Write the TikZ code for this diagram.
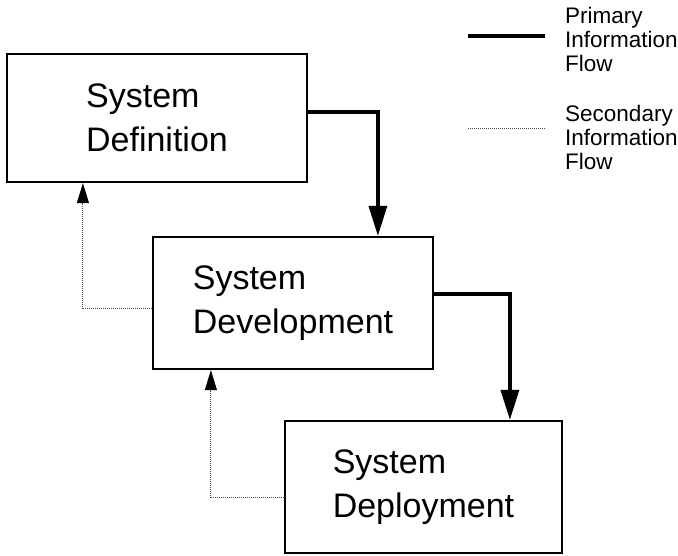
\documentclass[tikz,border=0pt]{standalone}
\usepackage{fontspec}
\setmainfont{Liberation Sans}
\usetikzlibrary{arrows.meta}

\begin{document}
\begin{tikzpicture}[x=1pt, y=-1pt,
    stage/.style={draw, line width=2.2pt, align=left, inner sep=0pt,
      font=\fontsize{34}{44}\selectfont},
    mainline/.style={line width=3.4pt},
    primary/.style={mainline, -{Triangle[width=18pt,length=30pt]}},
    sideline/.style={line width=0.9pt, black!70, dash pattern=on 1.2pt off 0.8pt},
    secondary/.style={sideline, -{Triangle[width=12pt,length=20pt,color=black]}},
    legendtext/.style={align=left, anchor=west, inner sep=0pt,
      font=\fontsize{22.5}{24}\selectfont}]
      \useasboundingbox (0,0) rectangle (678,556);
      % the three stages
      \node [stage, minimum width=300pt, minimum height=128pt] (def) at (157,118) {System\\Definition};
      \node [stage, minimum width=280pt, minimum height=132pt] (dev) at (293,303) {System\\Development};
      \node [stage, minimum width=277pt, minimum height=132pt] (dep) at (423.5,487) {System\\Deployment};
      % primary flow
      \draw [primary] ([yshift=6pt]def.east) -| ([xshift=226pt]dev.north west);
      \draw [primary] ([yshift=9pt]dev.east) -| ([xshift=226pt]dep.north west);
      % secondary flow
      \draw [secondary] ([yshift=-5pt]dev.west) -| ([xshift=77pt]def.south west);
      \draw [secondary] ([yshift=-10pt]dep.west) -| ([xshift=59pt]dev.south west);
      % legend
      \coordinate (pa) at (468,36);
      \coordinate (pb) at (545,36);
      \coordinate (sa) at (468,128);
      \coordinate (sb) at (545,128);
      \draw [mainline] (pa) -- (pb);
      \draw [sideline] (sa) -- (sb);
      \node [legendtext] (ptext) at (565,39) {Primary\\Information\\Flow};
      \node [legendtext] (stext) at (565,137) {Secondary\\Information\\Flow};
\end{tikzpicture}
\end{document}
